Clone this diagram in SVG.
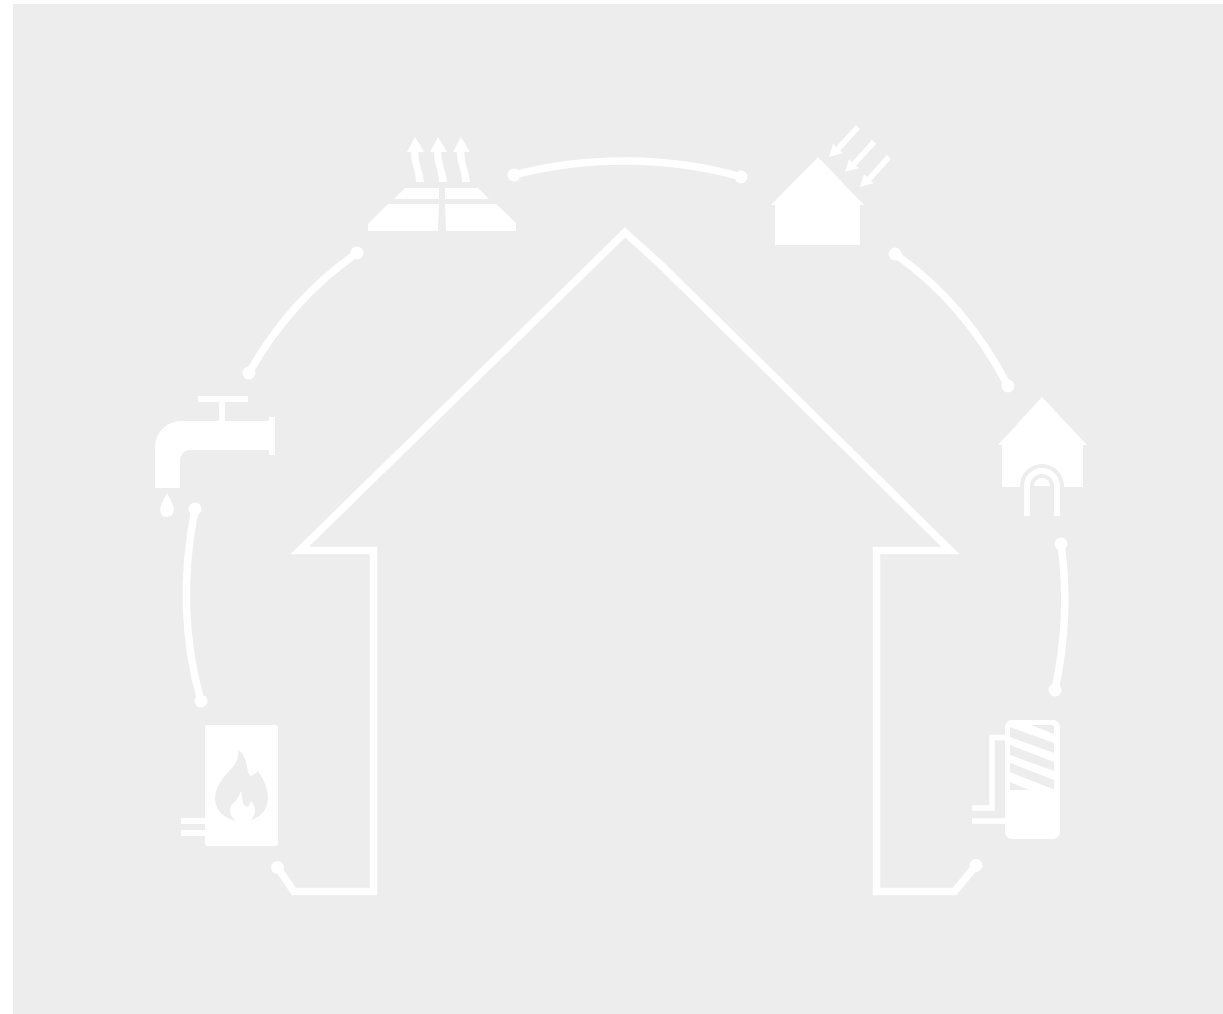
<svg xmlns="http://www.w3.org/2000/svg" width="1223" height="1014" viewBox="0 0 1223 1014">
<style>
.c{fill:none;stroke:#fff;stroke-width:7.500}
.i{fill:#fff;stroke:none}
.l{fill:none;stroke:#fff}
.b{fill:#ededed}
</style>
<defs><marker id="dot" markerUnits="userSpaceOnUse" markerWidth="16" markerHeight="16" refX="8" refY="8"><circle cx="8" cy="8" r="6.500" fill="#fff"/></marker></defs>
<rect width="1223" height="1014" fill="#fff"/>
<rect x="13" y="4" width="1210" height="1010" fill="#ededed"/>
<g id="connectors">
<path class="c" marker-start="url(#dot)" marker-end="url(#dot)" d="M277.500,867.500L294,891.500H373.500V550.500H299.500L625,232.500L660,264L950.500,550.500H876.500V891.500H954.500L976,865.500" stroke-miterlimit="10"/>
<path class="c" marker-start="url(#dot)" marker-end="url(#dot)" d="M514,175C585,156 670,156 741,177"/>
<path class="c" marker-start="url(#dot)" marker-end="url(#dot)" d="M895,254Q965,303 1008,386"/>
<path class="c" marker-start="url(#dot)" marker-end="url(#dot)" d="M1061,544Q1071,615 1055,690"/>
<path class="c" marker-start="url(#dot)" marker-end="url(#dot)" d="M195,509Q175,610 201,701"/>
<path class="c" marker-start="url(#dot)" marker-end="url(#dot)" d="M249,373Q290,300 357,253"/>
</g>
<g id="floor-heat" class="i">
<path d="M368,224L388,204H439L438,231H368Z"/><path d="M445,204H496L516,223V231H446Z"/>
<path d="M394,199L405,188H439V199Z"/><path d="M445,188H478L489,199H445Z"/>
<path d="M407,152L415,137L424,152H418.500C418,164 423,170 424,182H416C416,170 411,165 411,152Z"/>
<path d="M430,152L438,137L447,152H441.500C441,164 446,170 447,182H439C439,170 434,165 434,152Z"/>
<path d="M453,152L461,137L470,152H464.500C464,164 469,170 470,182H462C462,170 457,165 457,152Z"/>
</g>
<g id="solar-house" class="i">
<path d="M771,205L818,157L864,205H860V245H775V205Z"/>
<path d="M829,157L833,144L836,147L856,125L860,129L840,151L843,153Z"/>
<path d="M845,172L849,159L852,162L872,140L876,144L856,166L859,168Z"/>
<path d="M860,187L864,174L867,177L887,155L891,159L871,181L874,183Z"/>
</g>
<g id="heated-house">
<path class="i" d="M998,445L1042,397L1087,445H1083V487H1002V445Z"/>
<path class="b" d="M1020,487V486A22,22 0 0 1 1064,486V487V517H1020Z"/>
<path class="i" d="M1024,516V486A18,18 0 0 1 1060,486V516H1054V486A12,12 0 0 0 1030,486V516Z"/>
<path class="i" d="M1034,486A8,8 0 0 1 1050,486Z"/>
</g>
<g id="storage-tank">
<path class="i" d="M1005,727A7,7 0 0 1 1012,720H1053A7,7 0 0 1 1060,727V832A7,7 0 0 1 1053,839H1012A7,7 0 0 1 1005,832Z"/>
<path class="b" d="M1010,727L1054,743V753L1010,737Z"/>
<path class="b" d="M1031,725H1051Q1054,725 1054,728V734Z"/>
<path class="b" d="M1010,745L1054,762V771L1010,755Z"/>
<path class="b" d="M1010,763L1054,780V789.500L1010,772Z"/>
<path class="b" d="M1010,782L1029,790H1010Z"/>
<path class="l" stroke-width="5.500" d="M1005,737.500H992V808H972"/>
<path class="l" stroke-width="5.500" d="M972,821H1005"/>
</g>
<g id="boiler">
<rect class="i" x="205" y="725" width="73" height="121" rx="3"/>
<path class="i" d="M181,818H205V824H181ZM181,830H205V836H181Z"/>
<path class="b" d="M238,750Q246,754 248,772Q250,780 258,771Q268,785 268,798Q267,815 251,820Q258,812 253,804Q251,798 249,806Q245,808 243,803L241,791Q238,800 232,804Q226,813 236,821Q216,816 215,799Q215,785 229,771Q240,761 238,750Z"/>
</g>
<g id="tap">
<path class="i" d="M198,396H248V402H225V421H269V417H275V455H269V450H190A10,10 0 0 0 180,460V488H155V447A26,26 0 0 1 181,421H219V402H198Z"/>
<path class="i" d="M167,493L173,505Q176,516 167,517Q158,516 161,505Z"/>
</g>
</svg>
